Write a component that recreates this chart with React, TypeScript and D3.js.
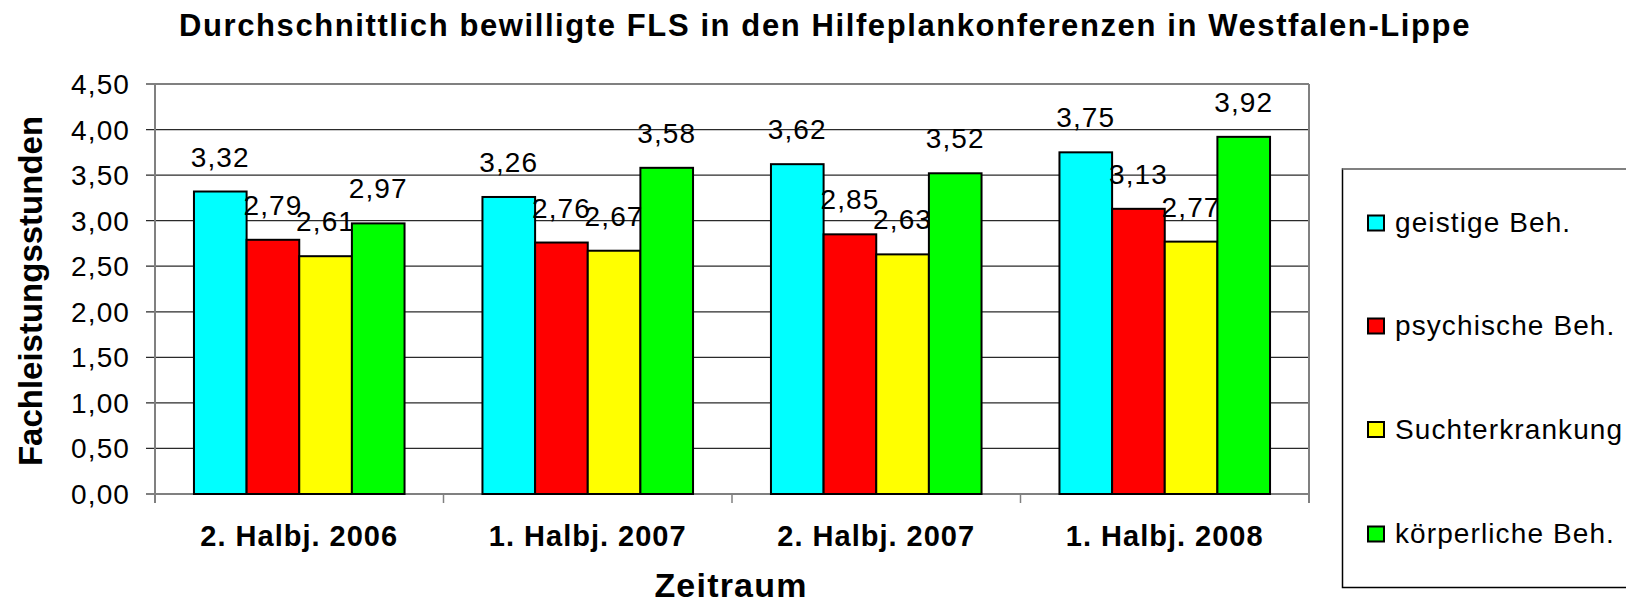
import React from "react";
import * as d3 from "d3";

const categories = ["2. Halbj. 2006", "1. Halbj. 2007", "2. Halbj. 2007", "1. Halbj. 2008"];
const seriesNames = ["geistige Beh.", "psychische Beh.", "Suchterkrankung", "körperliche Beh."];
const seriesColors = ["#00FFFF", "#FF0000", "#FFFF00", "#00FF00"];
const geistige = [3.32, 3.26, 3.62, 3.75];
const psychische = [2.79, 2.76, 2.85, 3.13];
const sucht = [2.61, 2.67, 2.63, 2.77];
const koerper = [2.97, 3.58, 3.52, 3.92];
const yTicks = [0, 0.5, 1, 1.5, 2, 2.5, 3, 3.5, 4, 4.5];
const title = "Durchschnittlich bewilligte FLS in den Hilfeplankonferenzen in Westfalen-Lippe";
const yTitle = "Fachleistungsstunden";
const xTitle = "Zeitraum";

const seriesValues = [geistige, psychische, sucht, koerper];
const FONT = "'Liberation Sans', Arial, Helvetica, sans-serif";
const fmt = (v: number) => v.toFixed(2).replace(".", ",");

export default function App() {
  const W = 1626, H = 605;
  const left = 155, right = 1309, top = 84, bottom = 494;
  const x0 = d3.scaleBand<string>().domain(categories).range([left, right]).padding(0);
  const x1 = d3.scaleBand<string>().domain(seriesNames).range([0, x0.bandwidth()]).paddingInner(0).paddingOuter(0.74);
  const y = d3.scaleLinear().domain([0, 4.5]).range([bottom, top]);

  const legendY = [223, 326, 429.5, 534];

  return (
    <svg width={W} height={H} style={{ position: "absolute", left: 0, top: 0, background: "#fff" }} fontFamily={FONT}>
      <rect x={0} y={0} width={W} height={H} fill="#fff" />
      <text x={825} y={36} textAnchor="middle" fontSize={31} fontWeight="bold" letterSpacing={1.6}>{title}</text>

      {/* gridlines */}
      {yTicks.map((t) => (
        <line key={"g" + t} x1={left - 9} x2={right} y1={y(t)} y2={y(t)} stroke={t === 4.5 ? "#808080" : "#2a2a2a"} strokeWidth={t === 4.5 ? 2 : 1.3} />
      ))}
      {/* plot border */}
      <line x1={right} x2={right} y1={top} y2={bottom + 9} stroke="#808080" strokeWidth={2} />
      <line x1={left} x2={left} y1={top} y2={bottom + 9} stroke="#808080" strokeWidth={2} />
      <line x1={left - 9} x2={right} y1={bottom} y2={bottom} stroke="#808080" strokeWidth={2} />
      {categories.slice(1).map((c) => (
        <line key={"t" + c} x1={x0(c)!} x2={x0(c)!} y1={bottom} y2={bottom + 9} stroke="#808080" strokeWidth={1.5} />
      ))}

      {/* y tick labels */}
      {yTicks.map((t) => (
        <text key={"yl" + t} x={130} y={y(t) + 10} textAnchor="end" fontSize={28} letterSpacing={1.1}>{fmt(t)}</text>
      ))}

      {/* bars */}
      {categories.map((c, ci) => (
        <g key={c} transform={`translate(${x0(c)},0)`}>
          {seriesNames.map((s, si) => {
            const v = seriesValues[si][ci];
            const bx = x1(s)!;
            return (
              <rect key={s} x={bx} y={y(v)} width={x1.bandwidth()} height={bottom - y(v)} fill={seriesColors[si]} stroke="#000" strokeWidth={2} />
            );
          })}
        </g>
      ))}
      {/* data labels */}
      {categories.map((c, ci) => (
        <g key={"l" + c} transform={`translate(${x0(c)},0)`}>
          {seriesNames.map((s, si) => {
            const v = seriesValues[si][ci];
            const cx = x1(s)! + x1.bandwidth() / 2;
            return (
              <text key={s} x={cx} y={y(v) - 25} textAnchor="middle" fontSize={28} letterSpacing={1.1}>{fmt(v)}</text>
            );
          })}
        </g>
      ))}

      {/* x labels */}
      {categories.map((c) => (
        <text key={"xl" + c} x={x0(c)! + x0.bandwidth() / 2} y={546} textAnchor="middle" fontSize={29} fontWeight="bold" letterSpacing={1}>{c}</text>
      ))}
      <text x={731} y={597} textAnchor="middle" fontSize={34} fontWeight="bold" letterSpacing={1.2}>{xTitle}</text>
      <text transform="translate(41.5,291) rotate(-90)" textAnchor="middle" fontSize={33} fontWeight="bold">{yTitle}</text>

      {/* legend */}
      <rect x={1342.5} y={169} width={320} height={418.5} fill="#fff" stroke="#000" strokeWidth={1.5} />
      <line x1={1342.5} x2={1640} y1={169} y2={169} stroke="#808080" strokeWidth={2} />
      {seriesNames.map((s, si) => (
        <g key={"lg" + s}>
          <rect x={1368} y={legendY[si] - 7.5} width={16} height={15} fill={seriesColors[si]} stroke="#000" strokeWidth={2} />
          <text x={1395} y={legendY[si] + 9} fontSize={28} letterSpacing={1.1}>{s}</text>
        </g>
      ))}
    </svg>
  );
}
